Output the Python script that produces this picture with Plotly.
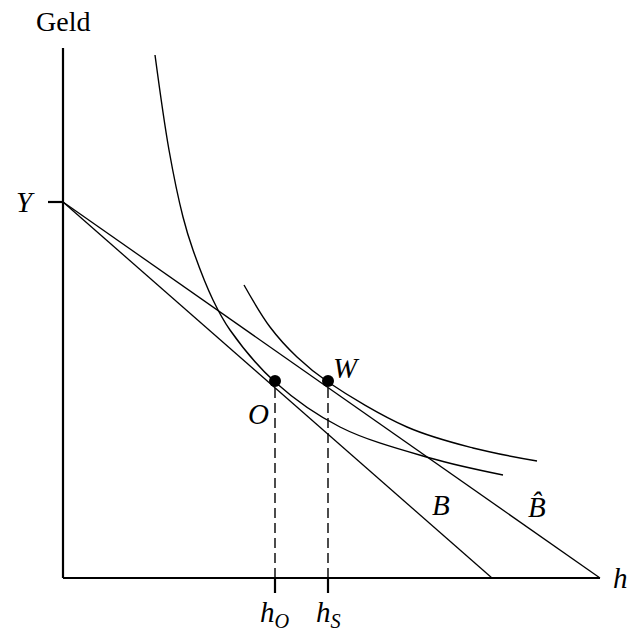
import plotly.graph_objects as go

# Data (arbitrary units; origin at axis intersection)
curve1_x = [92, 106, 120, 130, 150, 167, 212, 277, 367, 440]
curve1_y = [523, 428, 361, 328, 278, 248, 196, 151, 120, 103]
curve2_x = [181, 207, 234, 265, 344, 410, 474]
curve2_y = [293, 251, 221, 196, 151, 130, 117]
income_Y = 376
budget_B_end = 429
budget_Bhat_end = 537
point_names = ["O", "W"]
point_x = [212, 265]
point_y = [197, 197]
tick_labels = ["<i>h</i><sub><i>O</i></sub>", "<i>h</i><sub><i>S</i></sub>"]

XMAX, YMAX = 537, 530
FONT = "'Liberation Serif', 'Times New Roman', serif"
fig = go.Figure()

# budget lines
fig.add_trace(go.Scatter(x=[0, budget_B_end], y=[income_Y, 0], mode="lines",
                         line=dict(color="black", width=1.3), hoverinfo="skip"))
fig.add_trace(go.Scatter(x=[0, budget_Bhat_end], y=[income_Y, 0], mode="lines",
                         line=dict(color="black", width=1.3), hoverinfo="skip"))
# indifference curves
fig.add_trace(go.Scatter(x=curve1_x, y=curve1_y, mode="lines",
                         line=dict(color="black", width=1.4, shape="spline", smoothing=1.0), hoverinfo="skip"))
fig.add_trace(go.Scatter(x=curve2_x, y=curve2_y, mode="lines",
                         line=dict(color="black", width=1.4, shape="spline", smoothing=1.0), hoverinfo="skip"))
# dashed verticals
for px, py in zip(point_x, point_y):
    fig.add_trace(go.Scatter(x=[px, px], y=[0, py], mode="lines",
                             line=dict(color="black", width=1.4, dash="10px,5px"), hoverinfo="skip"))
# points
fig.add_trace(go.Scatter(x=point_x, y=point_y, mode="markers",
                         marker=dict(color="black", size=12), hoverinfo="skip"))

# axes
fig.add_shape(type="line", x0=0, y0=0, x1=XMAX, y1=0, line=dict(color="black", width=2.2))
fig.add_shape(type="line", x0=0, y0=0, x1=0, y1=YMAX, line=dict(color="black", width=2.2))
# ticks
fig.add_shape(type="line", x0=-15, y0=income_Y, x1=0, y1=income_Y, line=dict(color="black", width=2.2))
for px in point_x:
    fig.add_shape(type="line", x0=px, y0=0, x1=px, y1=-15, line=dict(color="black", width=2.2))

def ann(x, y, text, size=29):
    fig.add_annotation(x=x, y=y, text=text, showarrow=False,
                       font=dict(family=FONT, size=size, color="black"),
                       xanchor="center", yanchor="middle")

ann(0, 557, "Geld", 28)
ann(-38, income_Y, "<i>Y</i>")
ann(557, 0, "<i>h</i>")
for px, lab in zip(point_x, tick_labels):
    ann(px, -36, lab)
ann(195, 164, "<i>" + point_names[0] + "</i>")
ann(283, 210, "<i>" + point_names[1] + "</i>")
ann(378, 73, "<i>B</i>")
ann(474, 71, "<i>B\u0302</i>")

# plot area covers the whole figure; 1 data unit = 1 pixel
fig.update_layout(
    width=627, height=633,
    margin=dict(l=0, r=0, t=0, b=0),
    paper_bgcolor="white", plot_bgcolor="white",
    showlegend=False,
    xaxis=dict(range=[-63, 564], visible=False, fixedrange=True),
    yaxis=dict(range=[-55, 578], visible=False, fixedrange=True),
)
fig.write_html("out.html", config={"displayModeBar": False},
               post_script="document.body.style.margin='0';")
